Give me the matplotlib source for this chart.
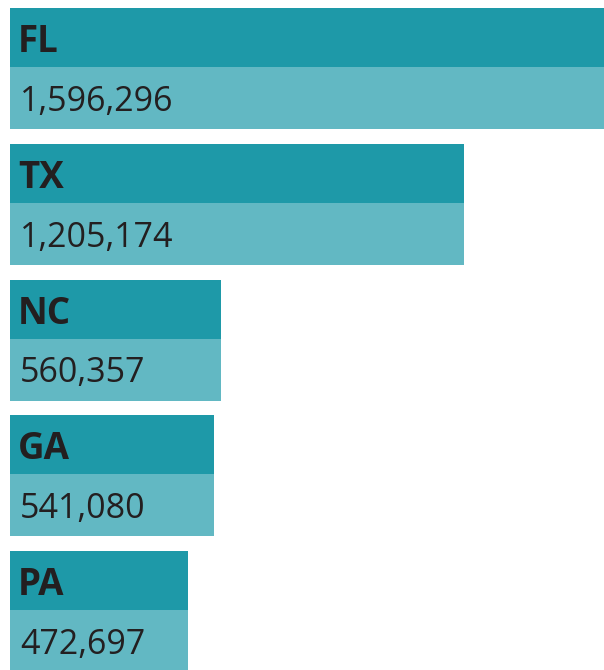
#!/usr/bin/env python
"""Horizontal two-tone bar chart of state totals."""

import matplotlib

matplotlib.use("Agg")
import matplotlib.pyplot as plt
import numpy as np

STATES = ["FL", "TX", "NC", "GA", "PA"]
VALUES = [1596296, 1205174, 560357, 541080, 472697]

DARK = "#1e99a8"
LIGHT = "#62b8c3"
TEXT = "#231f20"

W_PX, H_PX = 604, 670
LEFT_PX = 10
SLOT_PX = 135.75
BAR_PX = 121
TOP_BAND_PX = 59
FIRST_TOP_PX = 8
PX_PER_UNIT = 3.77e-4


def main() -> None:
    fig = plt.figure(figsize=(W_PX / 100, H_PX / 100), dpi=100)
    ax = fig.add_axes([LEFT_PX / W_PX, 0, 1 - LEFT_PX / W_PX, 1])
    ax.set_xlim(0, (W_PX - LEFT_PX) / PX_PER_UNIT)
    y_top = -FIRST_TOP_PX / SLOT_PX
    ax.set_ylim(y_top + H_PX / SLOT_PX, y_top)
    ax.axis("off")

    pos = np.arange(len(STATES))
    top_h = TOP_BAND_PX / SLOT_PX
    bot_h = (BAR_PX - TOP_BAND_PX) / SLOT_PX
    ax.barh(pos, VALUES, height=top_h, align="edge", color=DARK, linewidth=0)
    ax.barh(pos + top_h, VALUES, height=bot_h, align="edge", color=LIGHT, linewidth=0)

    x_off = 8 / PX_PER_UNIT
    for i, (state, value) in enumerate(zip(STATES, VALUES)):
        ax.text(x_off, i + 44 / SLOT_PX, state, fontsize=26.5, fontweight="bold",
                family="Open Sans", color=TEXT, va="baseline", ha="left")
        ax.text(x_off + 2 / PX_PER_UNIT, i + 103 / SLOT_PX, f"{value:,}",
                fontsize=24.5, family="Open Sans", color=TEXT,
                va="baseline", ha="left")

    fig.savefig("out.png", dpi=100)
    plt.close(fig)


if __name__ == "__main__":
    main()
